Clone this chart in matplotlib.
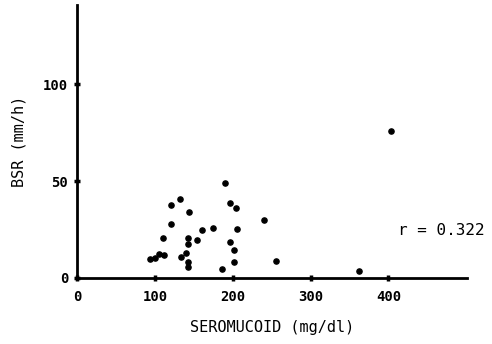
import matplotlib
matplotlib.use('Agg')
import matplotlib.pyplot as plt

# seromucoid (mg/dl) vs BSR (mm/h)
seromucoid = [94, 100, 105, 111, 110, 120, 120, 132, 144, 142, 143, 154, 160, 174,
              133, 140, 143, 142, 190, 196, 204, 206, 196, 201, 201, 186, 240, 403,
              256, 362]
bsr = [10.0, 10.2, 12.6, 12.1, 20.4, 37.5, 28.0, 40.6, 34.1, 20.6, 17.8, 19.7, 24.8, 26.0,
       10.9, 12.8, 8.5, 5.6, 49.3, 38.6, 36.2, 25.1, 18.7, 14.4, 8.1, 4.5, 29.9, 76.1,
       8.7, 3.8]

x_ticks = [0, 100, 200, 300, 400]
y_ticks = [0, 50, 100]
r_text = 'r = 0.322'

fig = plt.figure(figsize=(4.92, 3.44), dpi=100)
ax = fig.add_axes([0.157, 0.192, 0.792, 0.793])

ax.scatter(seromucoid, bsr, s=14, color='black', zorder=3)

ax.set_xlim(0, 501)
ax.set_ylim(0, 141)
ax.set_xticks(x_ticks)
ax.set_yticks(y_ticks)

for s in ['top', 'right']:
    ax.spines[s].set_visible(False)
for s in ['left', 'bottom']:
    ax.spines[s].set_linewidth(2)

ax.tick_params(direction='inout', length=5, width=2.5)
ax.tick_params(axis='x', pad=6)
ax.tick_params(axis='y', pad=4)
for lab in ax.get_xticklabels() + ax.get_yticklabels():
    lab.set_fontfamily('DejaVu Sans Mono')
    lab.set_fontweight('bold')
    lab.set_fontsize(10)

ax.set_xlabel('SEROMUCOID (mg/dl)', family='DejaVu Sans Mono', fontsize=11, labelpad=12)
ax.set_ylabel('BSR (mm/h)', family='DejaVu Sans Mono', fontsize=11, labelpad=12)

ax.text(413, 24.5, r_text, family='DejaVu Sans Mono', fontsize=11.5, va='center')

fig.savefig('out.png', dpi=100)
